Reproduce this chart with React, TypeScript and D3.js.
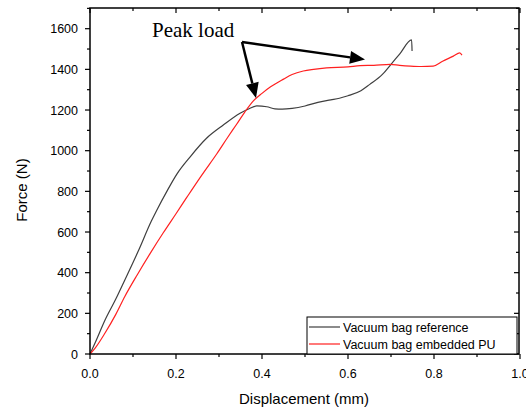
import React, { useRef, useEffect } from 'react';
import * as d3 from 'd3';

// displacement (mm), force (N)
const refDisp = [0, 0.012, 0.035, 0.06, 0.081, 0.112, 0.143, 0.155, 0.18, 0.202, 0.233, 0.271, 0.31, 0.349, 0.37, 0.388, 0.411, 0.43, 0.447, 0.47, 0.5, 0.53, 0.56, 0.58, 0.6, 0.63, 0.65, 0.68, 0.7, 0.72, 0.748, 0.749];
const refForce = [0, 55, 167, 270, 364, 505, 655, 706, 805, 885, 970, 1061, 1126, 1184, 1206, 1220, 1216, 1206, 1204, 1208, 1220, 1238, 1250, 1258, 1270, 1295, 1325, 1375, 1425, 1475, 1545, 1490];

const puDisp = [0, 0.012, 0.035, 0.06, 0.081, 0.11, 0.14, 0.17, 0.2, 0.225, 0.26, 0.295, 0.32, 0.341, 0.36, 0.38, 0.4, 0.42, 0.45, 0.47, 0.496, 0.52, 0.55, 0.6, 0.628, 0.66, 0.698, 0.72, 0.745, 0.77, 0.798, 0.82, 0.845, 0.86, 0.865];
const puForce = [0, 29, 103, 195, 283, 390, 495, 595, 690, 770, 880, 985, 1065, 1130, 1190, 1245, 1282, 1314, 1352, 1375, 1392, 1400, 1407, 1412, 1418, 1420, 1425, 1420, 1416, 1414, 1416, 1440, 1465, 1481, 1470];

const seriesNames = ['Vacuum bag reference', 'Vacuum bag embedded PU'];
const seriesColors = ['#3f3f3f', '#ff2020'];
const xTicks = [0, 0.2, 0.4, 0.6, 0.8, 1.0];
const yTicks = [0, 200, 400, 600, 800, 1000, 1200, 1400, 1600];

const App = () => {
  const ref = useRef<SVGSVGElement>(null);

  useEffect(() => {
    const m = { left: 90, right: 519, top: 8, bottom: 354 };
    const svg = d3.select(ref.current);
    svg.selectAll('*').remove();

    const x = d3.scaleLinear().domain([0, 1]).range([m.left, m.left + 430]);
    const y = d3.scaleLinear().domain([0, 1600]).range([m.bottom, 28.7]);
    const font = 'Arial, "Liberation Sans", sans-serif';

    // curves
    const series = [
      refDisp.map((d, i) => [d, refForce[i]]),
      puDisp.map((d, i) => [d, puForce[i]]),
    ];
    const lineGen = d3.line<number[]>()
      .x(d => x(d[0]))
      .y(d => y(d[1]))
      .curve(d3.curveMonotoneX);
    series.forEach((s, i) => {
      svg.append('path')
        .attr('d', lineGen(s))
        .attr('fill', 'none')
        .attr('stroke', seriesColors[i])
        .attr('stroke-width', 1.2);
    });

    // frame
    svg.append('rect')
      .attr('x', m.left).attr('y', m.top)
      .attr('width', m.right - m.left).attr('height', m.bottom - m.top)
      .attr('fill', 'none').attr('stroke', '#000').attr('stroke-width', 1.5);

    // x ticks
    const xMinor = d3.range(0, 1.01, 0.1);
    xMinor.forEach((v, i) => {
      const len = i % 2 === 0 ? 5 : 3;
      svg.append('line').attr('x1', x(v)).attr('x2', x(v))
        .attr('y1', m.bottom).attr('y2', m.bottom + len)
        .attr('stroke', '#000').attr('stroke-width', 1.2);
      svg.append('line').attr('x1', x(v)).attr('x2', x(v))
        .attr('y1', m.top).attr('y2', m.top + len)
        .attr('stroke', '#000').attr('stroke-width', 1.2);
    });
    svg.append('g').selectAll('text').data(xTicks).join('text')
      .attr('x', d => x(d)).attr('y', 378)
      .attr('text-anchor', 'middle')
      .attr('font-family', font).attr('font-size', 12.5)
      .text(d => d.toFixed(1));

    // y ticks
    const yMinor = d3.range(0, 1701, 100);
    yMinor.forEach((v, i) => {
      const len = i % 2 === 0 ? 5 : 3;
      svg.append('line').attr('x1', m.left - len).attr('x2', m.left)
        .attr('y1', y(v)).attr('y2', y(v))
        .attr('stroke', '#000').attr('stroke-width', 1.2);
      svg.append('line').attr('x1', m.right - len).attr('x2', m.right)
        .attr('y1', y(v)).attr('y2', y(v))
        .attr('stroke', '#000').attr('stroke-width', 1.2);
    });
    svg.append('g').selectAll('text').data(yTicks).join('text')
      .attr('x', 78).attr('y', d => y(d) + 4.5)
      .attr('text-anchor', 'end')
      .attr('font-family', font).attr('font-size', 12.5)
      .text(d => d);

    // axis titles
    svg.append('text')
      .attr('x', 304).attr('y', 404)
      .attr('text-anchor', 'middle')
      .attr('font-family', font).attr('font-size', 15)
      .text('Displacement (mm)');
    svg.append('text')
      .attr('transform', 'translate(27,190) rotate(-90)')
      .attr('text-anchor', 'middle')
      .attr('font-family', font).attr('font-size', 15)
      .text('Force (N)');

    // legend
    const lg = svg.append('g');
    lg.append('rect')
      .attr('x', 307).attr('y', 317).attr('width', 210).attr('height', 37)
      .attr('fill', '#fff').attr('stroke', '#000').attr('stroke-width', 1);
    seriesNames.forEach((name, i) => {
      const ly = 327 + i * 17;
      lg.append('line').attr('x1', 309).attr('x2', 340)
        .attr('y1', ly).attr('y2', ly)
        .attr('stroke', seriesColors[i]).attr('stroke-width', 1.2);
      lg.append('text').attr('x', 343).attr('y', ly + 4.5)
        .attr('font-family', font).attr('font-size', 12.5)
        .text(name);
    });

    // annotation
    svg.append('text')
      .attr('x', 152).attr('y', 37)
      .attr('font-family', '"Liberation Serif", "Times New Roman", serif')
      .attr('font-size', 21)
      .text('Peak load');

    const arrow = (x0: number, y0: number, x1: number, y1: number) => {
      const ang = Math.atan2(y1 - y0, x1 - x0);
      const hl = 15, hw = 6.5;
      const bx = x1 - hl * Math.cos(ang), by = y1 - hl * Math.sin(ang);
      svg.append('line').attr('x1', x0).attr('y1', y0).attr('x2', bx).attr('y2', by)
        .attr('stroke', '#000').attr('stroke-width', 2.5);
      const px = -Math.sin(ang) * hw, py = Math.cos(ang) * hw;
      svg.append('path')
        .attr('d', `M${x1},${y1}L${bx + px},${by + py}L${bx - px},${by - py}Z`)
        .attr('fill', '#000');
    };
    arrow(242, 42, 256, 98);
    arrow(242, 42, 365, 59.5);
  }, []);

  return (
    <svg ref={ref} width={526} height={412}
      style={{ position: 'absolute', left: 0, top: 0, background: '#fff' }} />
  );
};

export default App;
